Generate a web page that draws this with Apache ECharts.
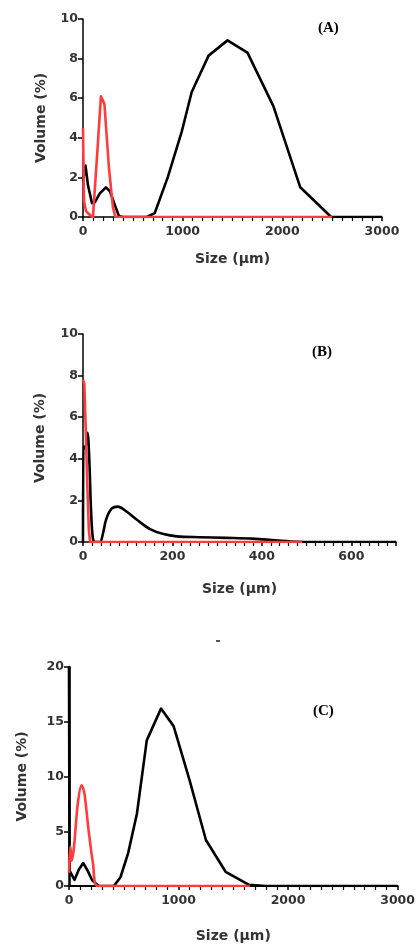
<!DOCTYPE html>
<html><head><meta charset="utf-8">
<script src="https://cdn.jsdelivr.net/npm/echarts@6/dist/echarts.min.js"></script>
<style>html,body{margin:0;padding:0;background:#fff}#c{width:418px;height:944px}</style>
</head><body><div id="c"></div>
<script>
// Panel A
const aBlackX = [0,25,50,90,120,170,230,270,320,360,400,640,720,850,990,1090,1260,1450,1650,1910,2180,2490,3000];
const aBlackY = [1.8,2.6,1.6,0.7,0.75,1.2,1.5,1.3,0.6,0.05,0,0,0.2,2.0,4.3,6.3,8.15,8.92,8.3,5.6,1.5,0,0];
const aRedX = [0,10,30,70,100,140,180,215,260,300,325,2500];
const aRedY = [4.5,0.8,0.3,0.1,0,3,6.1,5.7,2.5,0.5,0,0];
// Panel B
const bBlackX = [0,1,5,10,14,18,22,27,38,44,52,64,78,95,120,150,180,210,260,320,380,430,480,520,700];
const bBlackY = [0,4.6,4.5,5.25,4,1.5,0.2,0,0,0.35,1.1,1.6,1.7,1.5,1.08,0.62,0.38,0.27,0.23,0.2,0.16,0.08,0.01,0,0];
const bRedX = [0,3,6,10,13,16,490];
const bRedY = [7.8,7.6,5.5,2.5,0.6,0,0];
// Panel C
const cBlackX = [0,5,15,50,90,130,170,210,270,410,470,540,620,710,840,955,1100,1250,1430,1640,1800,3000];
const cBlackY = [20,1.4,1.3,0.55,1.5,2.1,1.4,0.55,0,0,0.8,3,6.6,13.3,16.2,14.6,9.7,4.2,1.3,0.12,0,0];
const cRedX = [0,12,25,45,80,115,140,180,220,262,1650];
const cRedY = [1.2,3.6,2.3,3.5,7.5,9.2,8.5,5,2,0,0];

const panelLabels = ['A','B','C'];
const yName = 'Volume (%)';
const xName = 'Size (μm)';

const zip = (xs, ys) => xs.map((x,i)=>[x, ys[i]]);
const FONT = 'DejaVu Sans';
const tickLabel = {color:'#333', fontWeight:'bold', fontSize:12.5, fontFamily:FONT, formatter: v => String(v)};
const nameStyle = {color:'#333', fontWeight:'bold', fontSize:14, fontFamily:FONT};

function xAxis(idx, max, interval, minorSplit, lw, gap, showMax){
  return {gridIndex:idx, type:'value', min:0, max:max, interval:interval,
    name:xName, nameLocation:'middle', nameGap:gap, nameTextStyle:nameStyle,
    axisLine:{lineStyle:{color:'#000', width:lw}},
    axisTick:{show:true, length:4, lineStyle:{color:'#000', width:1.5}},
    minorTick:{show:true, splitNumber:minorSplit, length:4, lineStyle:{color:'#000', width:1.2}},
    axisLabel:Object.assign({margin:8, showMaxLabel:showMax}, tickLabel), splitLine:{show:false}};
}
function yAxis(idx, max, interval, lw, gap){
  return {gridIndex:idx, type:'value', min:0, max:max, interval:interval,
    name:yName, nameLocation:'middle', nameGap:gap, nameTextStyle:nameStyle,
    axisLine:{show:true, lineStyle:{color:'#000', width:lw}},
    axisTick:{show:true, length:5, lineStyle:{color:'#000', width:1.5}},
    axisLabel:Object.assign({margin:5}, tickLabel), splitLine:{show:false}};
}
function line(idx, data, color, smooth){
  return {type:'line', xAxisIndex:idx, yAxisIndex:idx, data:data, showSymbol:false,
    smooth:smooth, lineStyle:{color:color, width:2.6, join:'round'}, itemStyle:{color:color}, silent:true, clip:true};
}
const BLACK = '#000000', RED = '#ff3b3b';

const chart = echarts.init(document.getElementById('c'));
chart.setOption({
  animation:false,
  backgroundColor:'#fff',
  grid:[
    {left:83, right:36, top:19, bottom:727},
    {left:83, right:22, top:334, bottom:402},
    {left:69, right:18, top:667, bottom:58}
  ],
  xAxis:[ xAxis(0,3000,1000,10,1.5,35,true), xAxis(1,700,200,10,1.5,40,false), xAxis(2,3000,1000,10,2,43,true) ],
  yAxis:[ yAxis(0,10,2,1.5,35), yAxis(1,10,2,1.5,36), yAxis(2,20,5,2.5,40) ],
  series:[
    line(0, zip(aBlackX,aBlackY), BLACK, false),
    line(0, zip(aRedX,aRedY), RED, false),
    line(1, zip(bBlackX,bBlackY), BLACK, 0.35),
    line(1, zip(bRedX,bRedY), RED, false),
    line(2, zip(cBlackX,cBlackY), BLACK, false),
    line(2, zip(cRedX,cRedY), RED, 0.3)
  ],
  graphic:[
    {type:'text', left:318, top:21, style:{text:'('+panelLabels[0]+')', font:'bold 15px "Liberation Serif"', fill:'#000'}},
    {type:'text', left:312, top:345, style:{text:'('+panelLabels[1]+')', font:'bold 15px "Liberation Serif"', fill:'#000'}},
    {type:'text', left:313, top:704, style:{text:'('+panelLabels[2]+')', font:'bold 15px "Liberation Serif"', fill:'#000'}},
    {type:'rect', shape:{x:216, y:640, width:4, height:2}, style:{fill:'#555'}}
  ]
});
</script></body></html>
